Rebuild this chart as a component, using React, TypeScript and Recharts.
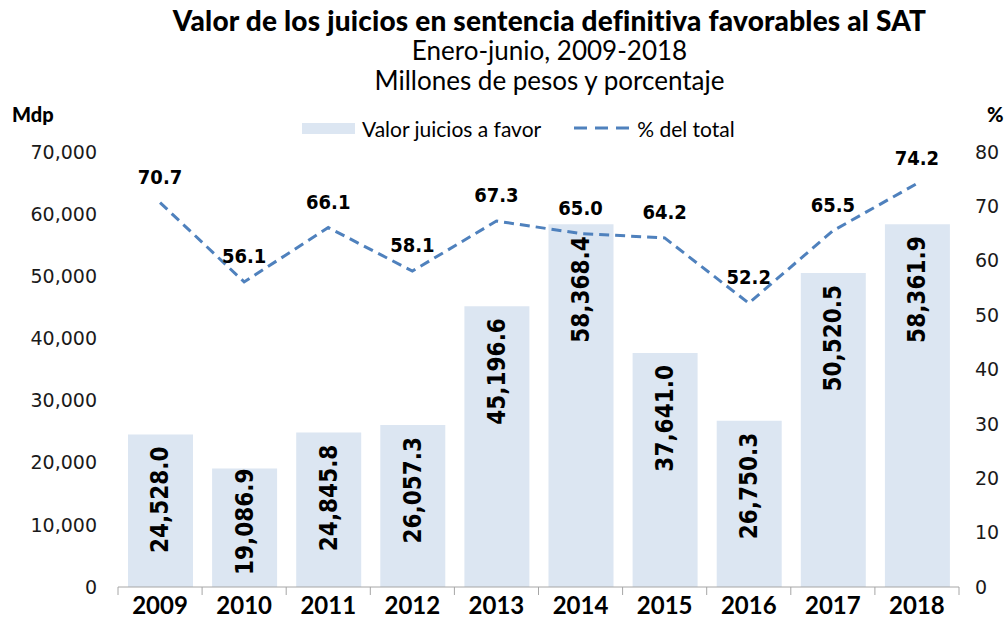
import { ComposedChart, Bar, Line, XAxis, YAxis, LabelList } from 'recharts';

const years = ['2009', '2010', '2011', '2012', '2013', '2014', '2015', '2016', '2017', '2018'];
const valorJuicios = [24528.0, 19086.9, 24845.8, 26057.3, 45196.6, 58368.4, 37641.0, 26750.3, 50520.5, 58361.9];
const pctTotal = [70.7, 56.1, 66.1, 58.1, 67.3, 65.0, 64.2, 52.2, 65.5, 74.2];
const leftTicks = [0, 10000, 20000, 30000, 40000, 50000, 60000, 70000];
const rightTicks = [0, 10, 20, 30, 40, 50, 60, 70, 80];

const data = years.map((year, i) => ({
  year,
  valor: valorJuicios[i],
  pct: pctTotal[i],
}));

const W = 1007;
const H = 630;
const LEFT_W = 118;
const RIGHT_W = 48;
const BAND = (W - LEFT_W - RIGHT_W) / years.length;

const titleFont = 'Lato, "Open Sans", sans-serif';
const numFont = '"DejaVu Sans Condensed", "DejaVu Sans", sans-serif';
const tickFont = '"DejaVu Sans", Verdana, sans-serif';

const YearTick = (props: any) => {
  const { x, y, payload, index } = props;
  const axisY = y - 8;
  return (
    <g>
      <line x1={x - BAND / 2} y1={axisY} x2={x - BAND / 2} y2={axisY + 8} stroke="#a6a6a6" />
      {index === years.length - 1 && (
        <line x1={x + BAND / 2} y1={axisY} x2={x + BAND / 2} y2={axisY + 8} stroke="#a6a6a6" />
      )}
      <text x={x} y={y + 19} textAnchor="middle" fontFamily={titleFont} fontWeight={700} fontSize={24} fill="#000">
        {payload.value}
      </text>
    </g>
  );
};

const BarValueLabel = (props: any) => {
  const { x, y, width, height, value } = props;
  const text = Number(value).toLocaleString('en-US', { minimumFractionDigits: 1, maximumFractionDigits: 1 });
  const cx = x + width / 2;
  const bottom = y + height;
  const approxLen = 108;
  const fitsTop = y + 12 + approxLen < bottom - 12;
  const ay = fitsTop ? y + 12 : bottom - 12;
  return (
    <text
      x={cx}
      y={ay}
      transform={`rotate(-90 ${cx} ${ay})`}
      textAnchor={fitsTop ? 'end' : 'start'}
      dominantBaseline="central"
      fontFamily={numFont}
      fontStretch="condensed"
      fontWeight={700}
      fontSize={24}
      fill="#000"
    >
      {text}
    </text>
  );
};

const LineValueLabel = (props: any) => {
  const { x, y, value } = props;
  return (
    <text
      x={x}
      y={y - 26}
      textAnchor="middle"
      dominantBaseline="central"
      fontFamily={numFont}
      fontStretch="condensed"
      fontWeight={700}
      fontSize={20}
      fill="#000"
    >
      {Number(value).toFixed(1)}
    </text>
  );
};

const App = () => {
  return (
    <div style={{ position: 'absolute', left: 0, top: 0, width: W, height: H, background: '#fff' }}>
      <div style={{ position: 'absolute', left: 0, width: W, textAlign: 'center', top: 5, lineHeight: '30px', fontFamily: titleFont }}>
        <div style={{ fontWeight: 900, fontSize: 28, paddingLeft: 92, letterSpacing: 0.2 }}>Valor de los juicios en sentencia definitiva favorables al SAT</div>
        <div style={{ fontSize: 26, paddingLeft: 92 }}>Enero-junio, 2009-2018</div>
        <div style={{ fontSize: 26, paddingLeft: 92 }}>Millones de pesos y porcentaje</div>
      </div>
      <div style={{ position: 'absolute', left: 12, top: 102, fontFamily: titleFont, fontWeight: 900, fontSize: 20 }}>Mdp</div>
      <div style={{ position: 'absolute', left: 987, top: 102, fontFamily: titleFont, fontWeight: 900, fontSize: 20 }}>%</div>
      <div style={{ position: 'absolute', left: 302, top: 115, height: 26, display: 'flex', alignItems: 'center', fontFamily: titleFont, fontSize: 21, color: '#000' }}>
        <span style={{ display: 'inline-block', width: 53, height: 11, background: '#dce6f2', marginRight: 7 }} />
        <span>Valor juicios a favor</span>
        <svg width={58} height={10} style={{ marginLeft: 33, marginRight: 5 }}>
          <line x1={0} y1={5} x2={56} y2={5} stroke="#4f81bd" strokeWidth={3} strokeDasharray="13 8" />
        </svg>
        <span>% del total</span>
      </div>
      <div style={{ position: 'absolute', left: 0, top: 0 }}>
        <ComposedChart
          width={W}
          height={H}
          data={data}
          margin={{ top: 152, right: 0, bottom: 0, left: 0 }}
          barCategoryGap="22%"
        >
          <XAxis
            dataKey="year"
            height={43}
            axisLine={{ stroke: '#a6a6a6' }}
            tickLine={false}
            tick={<YearTick />}
            interval={0}
          />
          <YAxis
            yAxisId="left"
            width={LEFT_W}
            domain={[0, 70000]}
            ticks={leftTicks}
            axisLine={false}
            tickLine={false}
            tickMargin={15}
            tickFormatter={(v: number) => v.toLocaleString('en-US')}
            tick={{ fontSize: 19, fill: '#1a1a1a', fontFamily: tickFont }}
          />
          <YAxis
            yAxisId="right"
            orientation="right"
            width={RIGHT_W}
            domain={[0, 80]}
            ticks={rightTicks}
            axisLine={false}
            tickLine={false}
            tickMargin={10}
            tick={{ fontSize: 19, fill: '#1a1a1a', fontFamily: tickFont, textAnchor: 'start' }}
          />
          <Bar yAxisId="left" dataKey="valor" fill="#dce6f2" barSize={65} isAnimationActive={false}>
            <LabelList dataKey="valor" content={<BarValueLabel />} />
          </Bar>
          <Line
            yAxisId="right"
            type="linear"
            dataKey="pct"
            stroke="#4f81bd"
            strokeWidth={3}
            strokeDasharray="10 6"
            dot={false}
            activeDot={false}
            isAnimationActive={false}
          >
            <LabelList dataKey="pct" content={<LineValueLabel />} />
          </Line>
        </ComposedChart>
      </div>
    </div>
  );
};

export default App;
